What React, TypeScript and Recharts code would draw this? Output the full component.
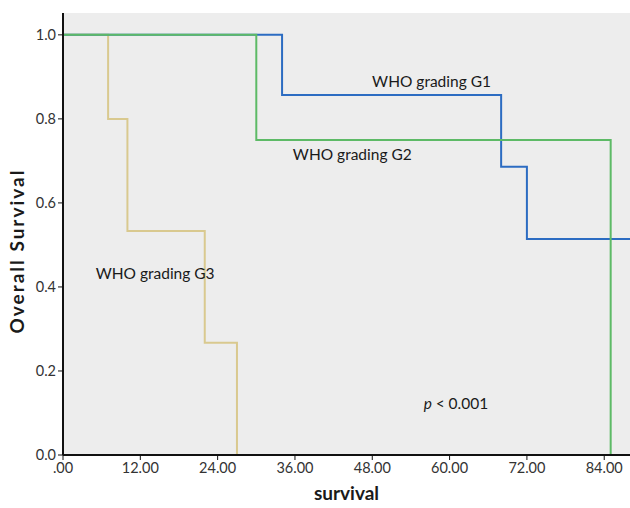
import { LineChart, Line, XAxis, YAxis, CartesianGrid, ReferenceDot } from "recharts";

// Kaplan-Meier steps (months, survival)
const g1Time = [0, 34, 68, 72, 88];
const g1Surv = [1, 0.857, 0.686, 0.514, 0.514];
const g2Time = [0, 30, 85];
const g2Surv = [1, 0.75, 0];
const g3Time = [0, 7, 10, 22, 27];
const g3Surv = [1, 0.8, 0.533, 0.267, 0];

const xTicks = [0, 12, 24, 36, 48, 60, 72, 84];
const yTicks = [0, 0.2, 0.4, 0.6, 0.8, 1.0];

const seriesNames = ["WHO grading G1", "WHO grading G2", "WHO grading G3"];
const pText = "< 0.001";

const toPts = (t: number[], s: number[]) => t.map((v, i) => ({ t: v, s: s[i] }));
const g1 = toPts(g1Time, g1Surv);
const g2 = toPts(g2Time, g2Surv);
const g3 = toPts(g3Time, g3Surv);

const FONT = "Lato, 'Open Sans', sans-serif";

const fmtX = (v: number) => (v === 0 ? ".00" : v.toFixed(2));

function centerText(text: string, italicP = false) {
  return (props: any) => {
    const vb = props.viewBox || {};
    const x = (vb.x ?? 0) + (vb.width ?? 0) / 2;
    const y = (vb.y ?? 0) + (vb.height ?? 0) / 2;
    return (
      <text x={x} y={y} textAnchor="middle" dominantBaseline="central" fontFamily={FONT} fontSize={15.5} fill="#1a1a1a">
        {italicP ? <tspan fontStyle="italic">p </tspan> : null}
        {text}
      </text>
    );
  };
}

export default function App() {
  return (
    <div style={{ position: "absolute", left: 0, top: 0, width: 630, height: 508, background: "#fff" }}>
      <LineChart width={630} height={508} margin={{ top: 13, right: 0, left: 0, bottom: 0 }}>
        <CartesianGrid fill="#EDEDED" horizontal={false} vertical={false} />
        <XAxis
          xAxisId="top"
          orientation="top"
          type="number"
          dataKey="t"
          domain={[0, 88]}
          height={0}
          tick={false}
          tickLine={false}
          axisLine={{ stroke: "#444", strokeWidth: 1.5 }}
        />
        <XAxis
          type="number"
          dataKey="t"
          domain={[0, 88]}
          allowDataOverflow
          ticks={xTicks}
          tickFormatter={fmtX}
          height={53}
          tickSize={5}
          tickMargin={3}
          tick={{ fontSize: 14.5, fill: "#333", fontFamily: FONT }}
          axisLine={{ stroke: "#111", strokeWidth: 2 }}
          tickLine={{ stroke: "#111" }}
          label={{
            value: "survival",
            position: "insideBottom",
            offset: 8,
            style: { fontSize: 19, fontWeight: 700, fill: "#1a1a1a", fontFamily: FONT },
          }}
        />
        <YAxis
          type="number"
          domain={[0, 1.052]}
          allowDataOverflow
          ticks={yTicks}
          tickFormatter={(v: number) => v.toFixed(1)}
          width={63}
          tickSize={5}
          tickMargin={2}
          tick={{ fontSize: 14.5, fill: "#333", fontFamily: FONT }}
          axisLine={{ stroke: "#111", strokeWidth: 2 }}
          tickLine={{ stroke: "#111" }}
          label={{
            value: "Overall Survival",
            angle: -90,
            position: "center",
            dx: -14,
            dy: 17,
            style: { fontSize: 19, fontWeight: 700, letterSpacing: 2, fill: "#1a1a1a", fontFamily: FONT, textAnchor: "middle" },
          }}
        />
        <Line data={g3} dataKey="s" type="stepAfter" stroke="#D9C98F" strokeWidth={2} dot={false} isAnimationActive={false} />
        <Line data={g1} dataKey="s" type="stepAfter" stroke="#2C6CC2" strokeWidth={2} dot={false} isAnimationActive={false} />
        <Line data={g2} dataKey="s" type="stepAfter" stroke="#5DBA66" strokeWidth={2} dot={false} isAnimationActive={false} />
        <ReferenceDot x={57.2} y={0.89} r={1} fill="none" stroke="none" label={{ content: centerText(seriesNames[0]) }} />
        <ReferenceDot x={44.9} y={0.717} r={1} fill="none" stroke="none" label={{ content: centerText(seriesNames[1]) }} />
        <ReferenceDot x={14.3} y={0.434} r={1} fill="none" stroke="none" label={{ content: centerText(seriesNames[2]) }} />
        <ReferenceDot x={61} y={0.124} r={1} fill="none" stroke="none" label={{ content: centerText(pText, true) }} />
      </LineChart>
    </div>
  );
}
